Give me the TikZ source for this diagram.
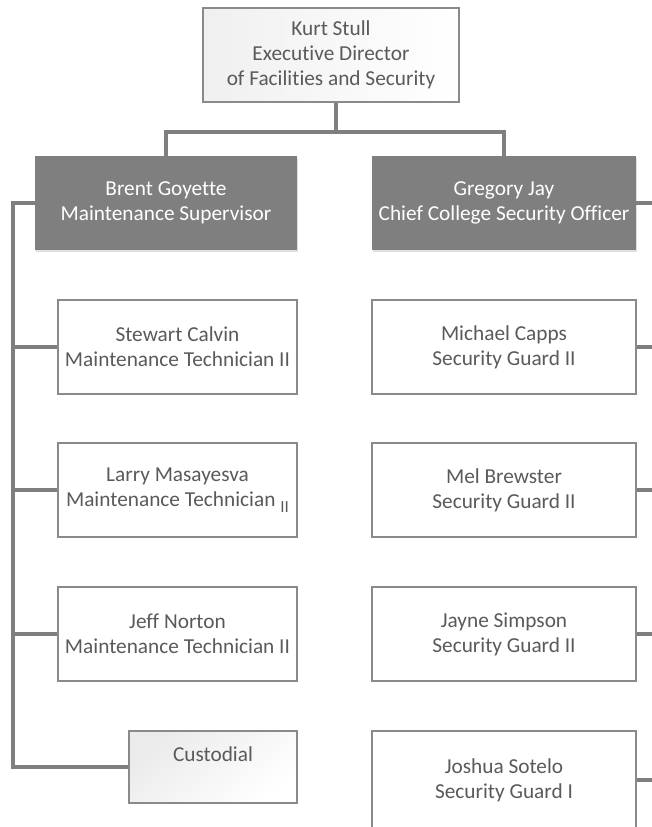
\documentclass[tikz,border=0pt]{standalone}
\usepackage{fontspec}
\setmainfont{Carlito}[Ligatures=CommonOff]
\usetikzlibrary{shadows}
\definecolor{boxgrey}{HTML}{7F7F7F}
\definecolor{txtgrey}{HTML}{5A5A5A}
\definecolor{edgegrey}{HTML}{8A8A8A}
\begin{document}
\begin{tikzpicture}[x=1pt, y=-1pt,
	font=\fontsize{21.3}{25}\selectfont,
	staffbox/.style={draw=edgegrey, line width=1.5pt, fill=white, text=txtgrey, align=center, minimum width=239pt, minimum height=94pt, inner sep=0pt},
	guardbox/.style={staffbox, minimum width=264pt},
	headbox/.style={fill=boxgrey, text=white, align=center, minimum height=94pt, inner sep=0pt, drop shadow={opacity=0.25, shadow xshift=1pt, shadow yshift=-2pt}},
	conn/.style={draw=boxgrey, line width=3.5pt}]
	\useasboundingbox (0,0) rectangle (651,827);

	% director
	\node[staffbox, minimum width=256pt, left color=black!6, right color=white] (kurt) at (331,55) {Kurt Stull\\Executive Director\\of Facilities and Security};

	% supervisors
	\node[headbox, minimum width=262pt] (brent) at (166,203) {Brent Goyette\\Maintenance Supervisor};
	\node[headbox, minimum width=264pt] (gregory) at (504,203) {Gregory Jay\\Chief College Security Officer};

	% maintenance
	\node[staffbox] (stewart) at (177.5,347) {Stewart Calvin\\Maintenance Technician II};
	\node[staffbox] (larry) at (177.5,490) {Larry Masayesva\\Maintenance Technician {\fontsize{17}{18}\selectfont\raisebox{-6pt}{II}}};
	\node[staffbox] (jeff) at (177.5,634) {Jeff Norton\\Maintenance Technician II};
	\node[staffbox, minimum width=168pt, minimum height=72pt, top color=black!8, bottom color=white, shading angle=40] (custodial) at (213,767) {Custodial\\\mbox{}};

	% security
	\node[guardbox] (michael) at (504,347) {Michael Capps\\Security Guard II};
	\node[guardbox] (mel) at (504,490) {Mel Brewster\\Security Guard II};
	\node[guardbox] (jayne) at (504,634) {Jayne Simpson\\Security Guard II};
	\node[guardbox, minimum height=98pt] (joshua) at (504,780) {Joshua Sotelo\\Security Guard I};

	\coordinate (tbar) at (336,132);
	\coordinate (lcol) at (13,0);
	\coordinate (rcol) at (656,0);

	\draw[conn] ([xshift=5pt]kurt.south) -- ([xshift=5pt]kurt.south |- tbar) -| (brent.north);
	\draw[conn] ([xshift=5pt]kurt.south |- tbar) -| (gregory.north);

	\draw[conn] (brent.west) -- (brent.west -| lcol) |- (custodial.west);
	\foreach \n in {stewart, larry, jeff}
		\draw[conn] (\n.west -| lcol) -- (\n.west);

	\foreach \n in {gregory, michael, mel, jayne, joshua}
		\draw[conn] (\n.east) -- (\n.east -| rcol);
\end{tikzpicture}
\end{document}
